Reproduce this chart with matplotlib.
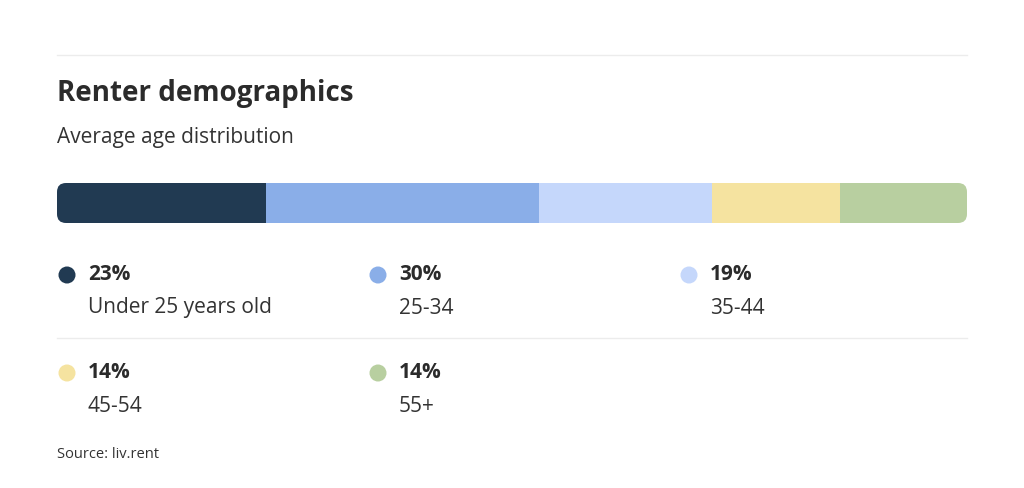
import matplotlib
matplotlib.use("Agg")
import matplotlib.pyplot as plt
from matplotlib.patches import FancyBboxPatch

plt.rcParams['font.family'] = ['Open Sans', 'DejaVu Sans']

categorias = ['Under 25 years old', '25-34', '35-44', '45-54', '55+']
percentuais = [23, 30, 19, 14, 14]
cores = ['#213a52', '#8aaee8', '#c5d7fb', '#f5e3a0', '#b8cfa0']

fig = plt.figure(figsize=(10.24, 4.88), dpi=100)
ax = fig.add_axes([0, 0, 1, 1])
ax.set_xlim(0, 1024)
ax.set_ylim(488, 0)
ax.axis('off')

# barra empilhada com cantos arredondados
x0, largura = 57, 910
escala = largura / sum(percentuais)
clip = FancyBboxPatch((x0, 183), largura, 40, boxstyle='round,pad=0,rounding_size=9',
                      transform=ax.transData, facecolor='none', edgecolor='none')
ax.add_patch(clip)
esquerda = x0
for p, c in zip(percentuais, cores):
    barra = ax.barh(203, p * escala, height=40, left=esquerda, color=c, edgecolor='none')
    for b in barra:
        b.set_clip_path(clip)
    esquerda += p * escala

ax.plot([57, 967], [55, 55], color='#ececec', lw=1)
ax.plot([57, 967], [338, 338], color='#ececec', lw=1)

ax.text(57, 94, 'Renter demographics', fontsize=20, fontweight='bold', color='#2b2b2b', va='center')
ax.text(57, 137, 'Average age distribution', fontsize=15, color='#333333', va='center')

colunas = [67, 378, 689]
linhas = [275, 373]
for i, (cat, p, c) in enumerate(zip(categorias, percentuais, cores)):
    x = colunas[i % 3]
    y = linhas[i // 3]
    ax.scatter([x], [y], s=150, color=c, edgecolors='none')
    ax.text(x + 21, y, f'{p}%', fontsize=15, fontweight='bold', color='#2b2b2b', va='center')
    ax.text(x + 21, y + 33, cat, fontsize=15, color='#333333', va='center')

ax.text(57, 455, 'Source: liv.rent', fontsize=10.5, color='#333333', va='center')

fig.savefig('out.png', dpi=100, facecolor='white')
